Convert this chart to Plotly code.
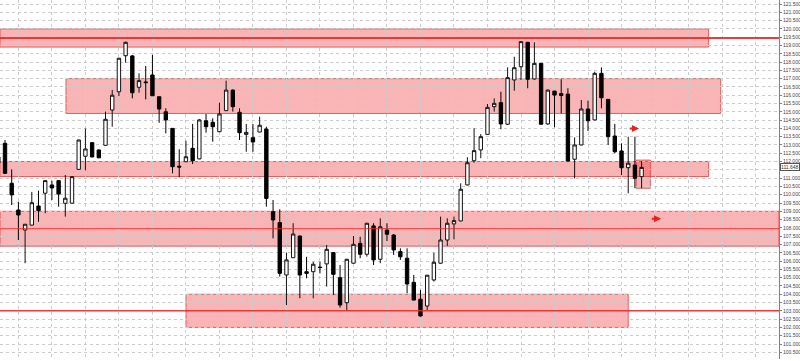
import plotly.graph_objects as go

idx = list(range(-1, 96))
opens = [112.28, 113.10, 110.69, 109.08, 107.875, 108.17, 109.32, 110.09, 110.59, 110.85,
         109.485, 109.49, 111.53, 112.32, 113.14, 112.70, 112.98, 115.11, 116.21, 118.38,
         118.37, 116.48, 116.80, 117.22, 115.91, 115.00, 114.00, 111.72, 111.99, 112.80,
         112.16, 114.46, 114.37, 113.80, 115.07, 116.31, 114.97, 113.64, 113.44, 113.78,
         113.96, 108.98, 108.32, 105.16, 106.20, 107.51, 105.36, 105.36, 105.64, 105.83,
         106.51, 105.00, 103.49, 105.87, 107.07, 106.41, 108.12, 106.11, 107.87, 107.57,
         106.57, 106.17, 104.72, 103.70, 103.29, 104.86, 105.87, 107.27, 108.24, 108.42,
         110.59, 112.05, 112.70, 113.64, 115.31, 115.55, 114.25, 116.92, 117.72, 119.19,
         116.98, 117.92, 114.27, 116.25, 116.10, 116.07, 112.14, 113.00, 115.17, 114.51,
         117.32, 115.75, 113.54, 112.64, 111.63, 111.79, 111.09]
highs = [112.80, 113.30, 111.53, 109.58, 108.24, 110.17, 110.24, 110.87, 110.85, 110.86,
         111.19, 111.10, 113.32, 113.99, 113.18, 112.73, 115.01, 116.32, 118.25, 119.24,
         118.43, 117.32, 117.76, 118.43, 115.92, 115.21, 114.02, 112.74, 113.26, 114.27,
         114.57, 114.87, 114.61, 115.55, 116.88, 116.34, 115.21, 114.27, 114.27, 114.71,
         114.10, 109.68, 109.12, 106.50, 108.28, 107.54, 106.26, 105.96, 105.96, 106.97,
         106.55, 105.76, 106.13, 107.51, 107.47, 108.30, 108.28, 108.58, 108.28, 107.63,
         106.77, 106.77, 105.16, 104.26, 105.16, 106.50, 108.68, 108.58, 108.68, 110.69,
         112.26, 114.01, 113.66, 115.47, 115.81, 116.21, 117.68, 118.32, 119.24, 119.21,
         119.19, 117.94, 116.34, 116.26, 116.96, 116.42, 113.46, 115.71, 115.67, 117.42,
         117.68, 115.77, 114.27, 113.10, 113.50, 113.50, 112.03]
lows = [111.50, 111.25, 109.38, 107.27, 105.87, 108.14, 108.37, 108.88, 109.68, 109.28,
        108.68, 109.47, 111.50, 111.47, 112.25, 112.20, 112.97, 114.10, 115.95, 117.96,
        115.81, 116.15, 115.75, 115.95, 114.34, 113.70, 111.29, 111.05, 111.97, 111.85,
        112.14, 113.74, 113.20, 113.78, 115.05, 115.01, 113.30, 112.59, 112.59, 113.77,
        109.28, 107.37, 105.06, 103.35, 106.19, 103.76, 104.96, 103.76, 105.26, 104.46,
        103.95, 103.19, 103.05, 105.85, 106.17, 106.27, 105.76, 105.87, 107.21, 106.37,
        106.07, 104.06, 103.64, 102.65, 103.05, 104.76, 105.85, 106.91, 107.31, 108.40,
        110.57, 111.93, 112.20, 113.63, 115.01, 113.95, 114.21, 116.27, 116.92, 116.42,
        116.95, 114.23, 114.21, 114.07, 114.91, 112.00, 110.99, 112.98, 113.84, 114.49,
        115.21, 113.00, 112.50, 111.19, 110.09, 110.39, 110.39]
closes = [111.91, 111.29, 109.99, 108.78, 108.22, 109.52, 109.04, 110.85, 110.41, 110.04,
          109.79, 111.09, 113.30, 112.76, 112.28, 112.23, 114.55, 116.00, 118.23, 119.19,
          116.15, 116.88, 116.76, 115.97, 115.17, 114.51, 111.69, 111.67, 112.29, 112.05,
          114.51, 114.10, 114.10, 114.87, 116.31, 115.31, 113.74, 113.76, 113.18, 114.19,
          109.78, 108.48, 105.26, 106.07, 107.63, 105.16, 105.26, 105.81, 105.61, 106.71,
          105.20, 103.35, 106.11, 107.01, 106.41, 108.28, 106.07, 108.07, 107.62, 106.67,
          106.26, 104.62, 103.65, 102.69, 105.15, 105.93, 107.27, 108.28, 108.44, 110.33,
          111.93, 112.66, 113.50, 115.27, 115.51, 114.27, 117.06, 117.66, 119.23, 116.96,
          117.92, 114.25, 116.31, 116.01, 115.98, 112.03, 113.00, 115.17, 114.46, 117.32,
          115.85, 113.50, 112.59, 111.63, 111.90, 110.99, 111.648]

# zones: (x_start, x_end, low, high)
zone_x0 = [-0.75, 9.1, -0.75, -0.75, 27.0, 94.2]
zone_x1 = [105.0, 106.8, 105.0, 115.5, 93.0, 96.3]
zone_lo = [118.9, 114.9, 111.1, 106.9, 102.0, 110.39]
zone_hi = [120.0, 117.0, 112.0, 109.0, 104.0, 112.09]
level_lines = [119.45, 107.95, 103.0]
level_widths = [2, 1, 1.5]
last_price = 111.648

tick_vals = [round(100.5 + 0.5 * k, 1) for k in range(43)]
tick_text = ["" if abs(v - 111.5) < 1e-9 else f"{v:.3f}" for v in tick_vals]

fig = go.Figure()
fig.add_trace(go.Candlestick(
    x=idx, open=opens, high=highs, low=lows, close=closes,
    increasing=dict(line=dict(color="#111111", width=1), fillcolor="#ffffff"),
    decreasing=dict(line=dict(color="#000000", width=1), fillcolor="#000000"),
    whiskerwidth=0, showlegend=False, hoverinfo="skip"))

for x0, x1, lo, hi in zip(zone_x0, zone_x1, zone_lo, zone_hi):
    fig.add_shape(type="rect", x0=x0, x1=x1, y0=lo, y1=hi, xref="x", yref="y",
                  fillcolor="rgba(238,60,60,0.38)",
                  line=dict(color="rgba(230,50,50,0.75)", width=1), layer="below")
for lv, lw in zip(level_lines, level_widths):
    fig.add_shape(type="line", x0=-0.75, x1=115.5, y0=lv, y1=lv, xref="x", yref="y",
                  line=dict(color="rgba(235,40,40,0.9)", width=lw), layer="above")

# arrows
fig.add_annotation(x=94.6, y=114.0, ax=93.0, ay=114.0, axref="x", ayref="y",
                   xref="x", yref="y", text="", showarrow=True, arrowhead=2,
                   arrowsize=0.7, arrowwidth=2, arrowcolor="#e82020")
fig.add_annotation(x=97.9, y=108.55, ax=96.3, ay=108.55, axref="x", ayref="y",
                   xref="x", yref="y", text="", showarrow=True, arrowhead=2,
                   arrowsize=0.7, arrowwidth=2, arrowcolor="#e82020")

fig.add_annotation(x=1, xref="paper", y=last_price, yref="y", xanchor="left",
                   xshift=1, text=f"{last_price:.3f}", showarrow=False,
                   font=dict(size=5, color="#333333", family="Liberation Sans"),
                   bgcolor="white", bordercolor="#555555", borderwidth=1, borderpad=0)

fig.update_layout(
    width=800, height=361, margin=dict(l=0, r=21, t=0, b=2),
    paper_bgcolor="white", plot_bgcolor="white", boxgap=0.28,
    xaxis=dict(range=[-0.746, 115.5], rangeslider=dict(visible=False),
               showticklabels=False, tick0=2, dtick=5, showgrid=True,
               gridcolor="#cccccc", griddash="dot", gridwidth=1, zeroline=False,
               showline=False, fixedrange=True),
    yaxis=dict(range=[100.096, 121.741], side="right", tickmode="array",
               tickvals=tick_vals, ticktext=tick_text,
               showgrid=True, gridcolor="#cccccc", griddash="dot",
               gridwidth=1, zeroline=False, showline=True, linecolor="#808080",
               linewidth=1, ticks="outside", ticklen=2, tickcolor="#808080",
               tickfont=dict(size=5, color="#444444", family="Liberation Sans"),
               fixedrange=True),
)
fig.write_html("out.html")
